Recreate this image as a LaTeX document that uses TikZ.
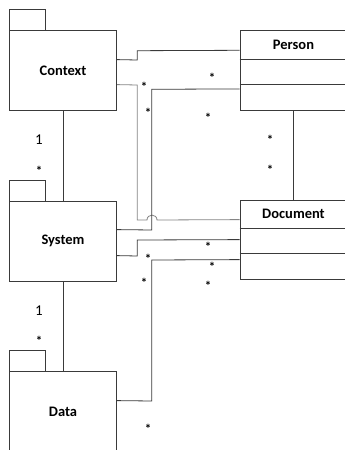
\documentclass[tikz,border=0pt]{standalone}
\usepackage{fontspec}
\setmainfont{Carlito}
\definecolor{ln}{HTML}{3A3A3A}
\definecolor{lg}{HTML}{858585}
\tikzset{
  pkg/.style={draw=ln, line width=0.8pt, fill=white, minimum width=107.4pt, inner sep=0pt, font=\fontsize{14.5}{17}\selectfont\bfseries},
  tabbox/.style={draw=ln, line width=0.8pt, minimum width=36.4pt, minimum height=21pt, inner sep=0pt, anchor=south west},
  cls/.style={draw=ln, line width=0.8pt, minimum width=107pt, minimum height=79.3pt, inner sep=0pt},
  ttl/.style={font=\fontsize{14.5}{17}\selectfont\bfseries, inner sep=0pt},
  conn/.style={draw=ln, line width=0.8pt},
  gconn/.style={draw=lg, line width=0.8pt},
  mult/.style={font=\fontsize{15}{17}\selectfont, inner sep=0pt, text=black},
  star/.style={font=\fontsize{13}{15}\selectfont\bfseries, inner sep=0pt, yshift=-2.5pt}
}
\begin{document}
\begin{tikzpicture}[x=1pt,y=-1pt]
\clip (0,0) rectangle (345,450);
\fill[white] (0,0) rectangle (345,450);
% packages
\node[pkg, minimum height=79.3pt] (ctx) at (63,70.35) {Context};
\node[tabbox] (ctxtab) at (ctx.north west) {};
\node[pkg, minimum height=79.3pt] (sys) at (63,241.35) {System};
\node[tabbox] (systab) at (sys.north west) {};
\node[pkg, minimum height=80pt] (data) at (63,411.7) {Data};
\node[tabbox] (datatab) at (data.north west) {};
% classes
\node[cls] (per) at (293.5,70.35) {};
\node[ttl] (pertitle) at ([yshift=-14.3pt]per.north) {Person};
\draw[conn] ([yshift=-29.3pt]per.north west) -- ([yshift=-29.3pt]per.north east);
\draw[conn] ([yshift=-54.3pt]per.north west) -- ([yshift=-54.3pt]per.north east);
\node[cls, minimum height=78.3pt] (doc) at (293.5,239.85) {};
\node[ttl] (doctitle) at ([yshift=-13.8pt]doc.north) {Document};
\draw[conn] ([yshift=-28.3pt]doc.north west) -- ([yshift=-28.3pt]doc.north east);
\draw[conn] ([yshift=-53.3pt]doc.north west) -- ([yshift=-53.3pt]doc.north east);
% connectors
\draw[conn] (ctx.south) -- (sys.north);
\draw[conn] (sys.south) -- (data.north);
\draw[conn] (per.south) -- (doc.north);
\draw[conn] ([yshift=-29.3pt]ctx.north east) -- (137.3,60) -- (137.3,50.7) -- ([yshift=-20pt]per.north west);
\draw[gconn] ([yshift=-54.3pt]ctx.north east) -- (137.3,85) -- (137.3,220) -- (147,220) .. controls (147,213.5) and (157,213.5) .. (157,220) -- ([yshift=-19.3pt]doc.north west);
\draw[conn] ([yshift=-28.3pt]sys.north east) -- (151.7,230) -- (151.7,89.3) -- ([yshift=-58.6pt]per.north west);
\draw[conn] ([yshift=-54.3pt]sys.north east) -- (137.3,256) -- (137.3,240) -- ([yshift=-39.3pt]doc.north west);
\draw[conn] ([yshift=-59.3pt]doc.north west) -- (151.7,260) -- (151.7,401) -- ([yshift=-29.3pt]data.north east);
% multiplicities
\node[mult] (m1) at (39,140) {1};
\node[star] (m2) at (39,168) {*};
\node[mult] (m3) at (39,311) {1};
\node[star] (m4) at (39,338) {*};
\node[star] (s1) at (144,84) {*};
\node[star] (s2) at (148,110) {*};
\node[star] (s3) at (212,75) {*};
\node[star] (s4) at (208,115) {*};
\node[star] (s5) at (270,137) {*};
\node[star] (s6) at (270,167) {*};
\node[star] (s7) at (208,244) {*};
\node[star] (s8) at (148,256) {*};
\node[star] (s9) at (212,264) {*};
\node[star] (s10) at (144,280) {*};
\node[star] (s11) at (208,283) {*};
\node[star] (s12) at (148,426) {*};
\end{tikzpicture}
\end{document}
